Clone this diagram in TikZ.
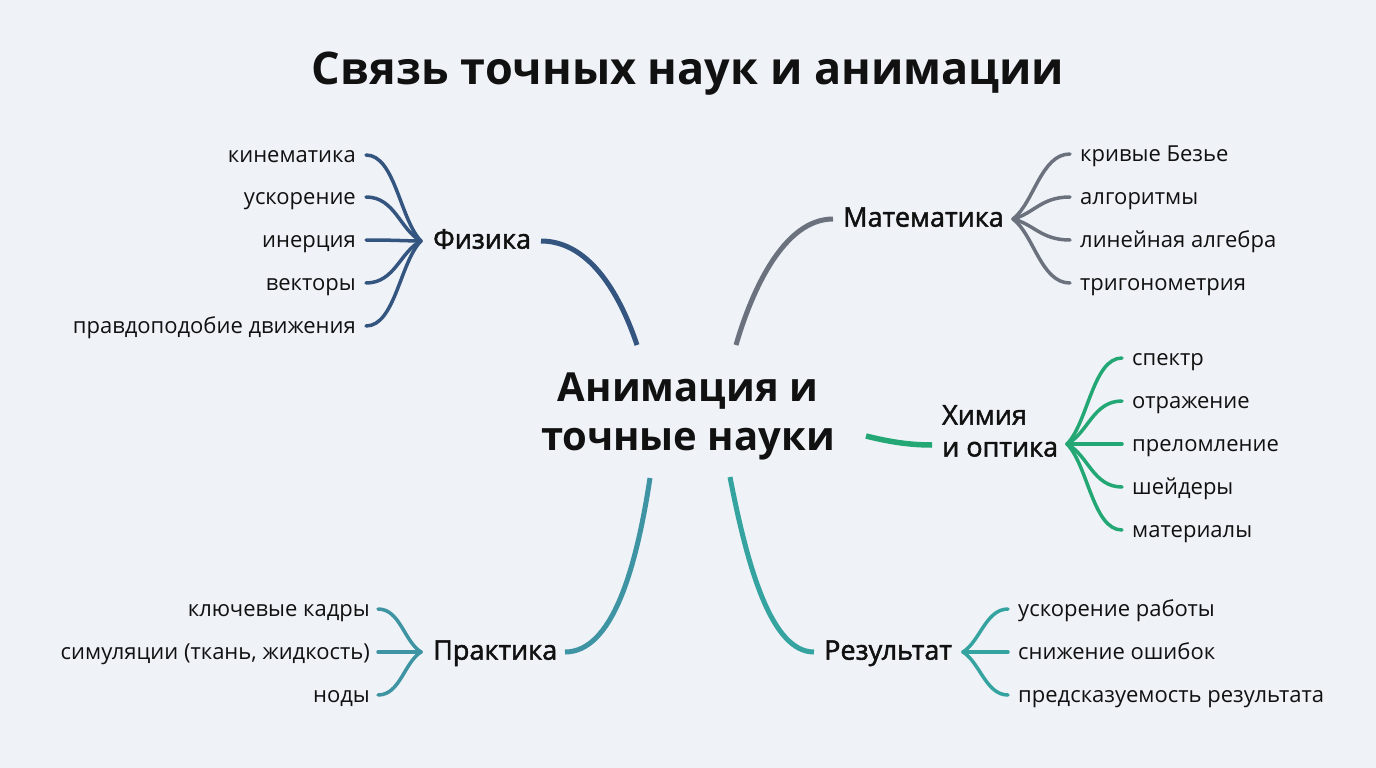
\documentclass[tikz,border=0pt]{standalone}
\usepackage{fontspec}
\setmainfont{Open Sans}
\newfontfamily\semib[FakeBold=1.8]{Open Sans}
\usetikzlibrary{calc}
\definecolor{bg}{HTML}{EFF3F8}
\definecolor{phys}{HTML}{34557F}
\definecolor{mathc}{HTML}{6B727E}
\definecolor{chem}{HTML}{23A774}
\definecolor{prac}{HTML}{3E94A3}
\definecolor{resc}{HTML}{35A3A0}
\definecolor{ink}{HTML}{111111}
\tikzset{
  leaf/.style={font=\fontsize{22}{26}\selectfont, text=ink, inner sep=0pt, text height=1ex, text depth=0pt, yshift=-5pt},
  branch/.style={font=\semib\fontsize{27}{32}\selectfont, text=ink, inner sep=0pt, text height=1ex, text depth=0pt, yshift=-5pt},
  twig/.style={line width=3.5pt, line cap=round},
  limb/.style={line width=5pt, line cap=butt},
}
\begin{document}
\begin{tikzpicture}[x=1pt,y=-1pt]
\fill[bg] (0,0) rectangle (1376,768);
\useasboundingbox (0,0) rectangle (1376,768);

\node[font=\bfseries\fontsize{45}{52}\selectfont, text=ink] (title) at (688,74) {Связь точных наук и анимации};

\node[font=\bfseries\fontsize{40}{49}\selectfont, text=ink, align=center, inner sep=0pt] (cen) at (688,416) {Анимация и\\точные науки};

% Physics
\node[branch, anchor=west] (phy) at (433,241) {Физика};
\coordinate (phyhub) at (421,241);
\foreach \n/\y/\t in {p1/155/кинематика, p2/197/ускорение, p3/240/инерция, p4/283/векторы, p5/326/правдоподобие движения}{
  \node[leaf, anchor=east] (\n) at (356,\y) {\t};
  \draw[twig,phys] ([xshift=10pt,yshift=5pt]\n.east) .. controls +(29,0) and +(-21,{0.25*(\y-241)}) .. (phyhub);
}
\coordinate (phyS) at (541,241);
\coordinate (phyE) at (637,345);
\draw[limb,phys] (phyS) .. controls (592,241) and (622,300) .. (phyE);

% Mathematics
\node[branch, anchor=west] (mat) at (843,219) {Математика};
\coordinate (mathub) at (1013,219);
\foreach \n/\y/\t in {m1/154/кривые Безье, m2/197/алгоритмы, m3/240/линейная алгебра, m4/283/тригонометрия}{
  \node[leaf, anchor=west] (\n) at (1080,\y) {\t};
  \draw[twig,mathc] (mathub) .. controls +(21,{0.25*(\y-219)}) and +(-29,0) .. ([xshift=-10pt,yshift=5pt]\n.west);
}
\coordinate (matS) at (833,219);
\coordinate (matE) at (736,345);
\draw[limb,mathc] (matS) .. controls (784,219) and (752,290) .. (matE);

% Chemistry
\node[anchor=west, inner sep=0pt, text=ink, align=left, font=\semib\fontsize{27}{32}\selectfont] (chm) at (942,431) {Химия\\и оптика};
\coordinate (chmhub) at (1067,444);
\foreach \n/\y/\t in {c1/358/спектр, c2/401/отражение, c3/444/преломление, c4/487/шейдеры, c5/530/материалы}{
  \node[leaf, anchor=west] (\n) at (1132,\y) {\t};
  \draw[twig,chem] (chmhub) .. controls +(21,{0.25*(\y-444)}) and +(-29,0) .. ([xshift=-10pt,yshift=5pt]\n.west);
}
\coordinate (chmS) at (866,436);
\coordinate (chmE) at (932,445);
\draw[limb,chem,line width=5.5pt] (chmS) .. controls (890,442) and (910,445) .. (chmE);

% Practice
\node[branch, anchor=west] (prc) at (433,652) {Практика};
\coordinate (prchub) at (421,652);
\foreach \n/\y/\t in {r1/609/ключевые кадры, r2/652/{симуляции (ткань, жидкость)}, r3/695/ноды}{
  \node[leaf, anchor=east] (\n) at (370,\y) {\t};
  \draw[twig,prac] ([xshift=8pt,yshift=5pt]\n.east) .. controls +(22,0) and +(-17,{0.25*(\y-652)}) .. (prchub);
}
\coordinate (prcS) at (565,652);
\coordinate (prcE) at (650,478);
\draw[limb,prac] (prcS) .. controls (612,652) and (636,570) .. (prcE);

% Result
\node[branch, anchor=west] (res) at (824,652) {Результат};
\coordinate (reshub) at (963,652);
\foreach \n/\y/\t in {s1/609/ускорение работы, s2/652/снижение ошибок, s3/695/предсказуемость результата}{
  \node[leaf, anchor=west] (\n) at (1018,\y) {\t};
  \draw[twig,resc] (reshub) .. controls +(17,{0.25*(\y-652)}) and +(-22,0) .. ([xshift=-10pt,yshift=5pt]\n.west);
}
\coordinate (resS) at (814,652);
\coordinate (resE) at (730,477);
\draw[limb,resc] (resS) .. controls (772,652) and (748,570) .. (resE);
\end{tikzpicture}
\end{document}
